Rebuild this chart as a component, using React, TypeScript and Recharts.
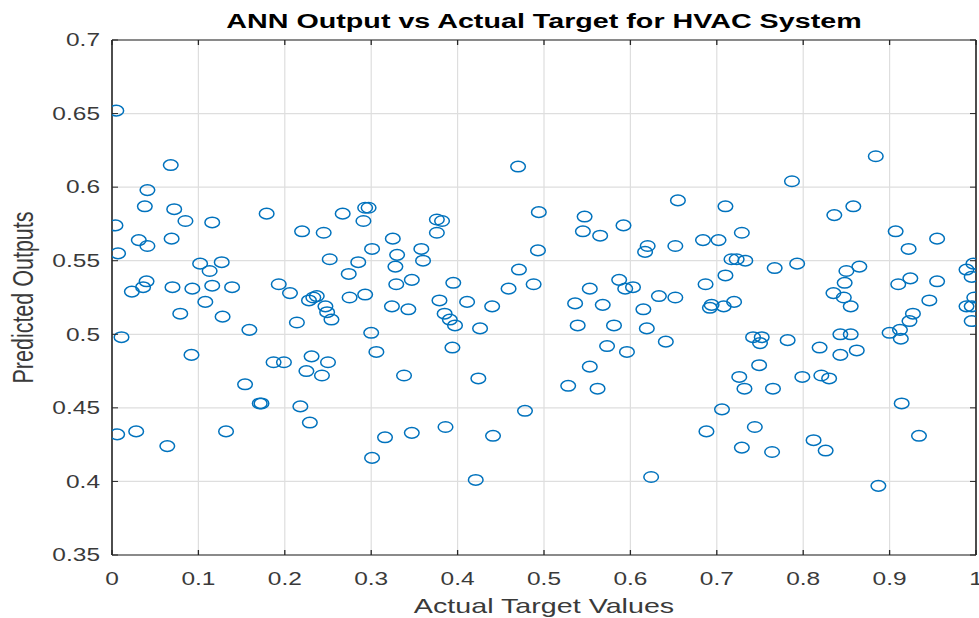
import React from 'react';
import { ScatterChart, Scatter, XAxis, YAxis, CartesianGrid, ReferenceLine } from 'recharts';

const actualTargets = [
  0.005,0.068,0.041,0.038,0.072,0.085,0.116,0.004,0.031,0.041,
  0.069,0.007,0.102,0.127,0.113,0.040,0.036,0.023,0.070,0.093,
  0.116,0.139,0.108,0.079,0.128,0.159,0.011,0.092,0.006,0.028,
  0.064,0.132,0.154,0.171,0.173,
  0.179,0.220,0.245,0.267,0.293,0.297,0.291,0.325,0.301,0.330,
  0.252,0.285,0.274,0.328,0.329,0.193,0.206,0.237,0.233,0.228,
  0.247,0.249,0.254,0.275,0.293,0.324,0.214,0.300,0.306,0.231,
  0.187,0.199,0.250,0.225,0.243,0.218,0.229,0.301,0.316,
  0.470,0.494,0.376,0.382,0.376,0.358,0.493,0.360,0.471,0.347,
  0.395,0.488,0.459,0.379,0.411,0.440,0.343,0.385,0.391,0.397,
  0.426,0.394,0.338,0.424,0.347,0.386,0.441,0.478,0.421,
  0.655,0.547,0.545,0.565,0.592,0.620,0.617,0.652,0.587,0.594,
  0.603,0.553,0.633,0.652,0.536,0.568,0.615,0.539,0.581,0.619,
  0.641,0.573,0.596,0.553,0.528,0.562,0.624,
  0.787,0.710,0.729,0.684,0.702,0.717,0.723,0.733,0.767,0.793,
  0.710,0.687,0.720,0.694,0.692,0.708,0.742,0.752,0.750,0.782,
  0.819,0.749,0.726,0.732,0.765,0.799,0.821,0.830,0.706,0.688,
  0.744,0.729,0.764,0.812,0.826,
  0.884,0.858,0.836,0.907,0.955,0.922,0.865,0.850,0.848,0.835,
  0.847,0.855,0.910,0.924,0.955,0.946,0.927,0.923,0.912,0.900,
  0.913,0.843,0.855,0.862,0.843,0.989,0.997,0.995,0.989,0.998,
  0.995,0.995,0.914,0.934,0.887,
];

const predictedOutputs = [
  0.652,0.615,0.598,0.587,0.585,0.577,0.576,0.574,0.564,0.560,
  0.565,0.555,0.548,0.549,0.543,0.536,0.532,0.529,0.532,0.531,
  0.533,0.532,0.522,0.514,0.512,0.503,0.498,0.486,0.432,0.434,
  0.424,0.434,0.466,0.453,0.453,
  0.582,0.570,0.569,0.582,0.586,0.586,0.577,0.565,0.558,0.554,
  0.551,0.549,0.541,0.546,0.534,0.534,0.528,0.526,0.525,0.523,
  0.519,0.515,0.510,0.525,0.527,0.519,0.508,0.501,0.488,0.485,
  0.481,0.481,0.481,0.475,0.472,0.451,0.440,0.416,0.430,
  0.614,0.583,0.578,0.577,0.569,0.558,0.557,0.550,0.544,0.537,
  0.535,0.534,0.531,0.523,0.522,0.519,0.517,0.514,0.510,0.506,
  0.504,0.491,0.472,0.470,0.433,0.437,0.431,0.448,0.401,
  0.591,0.580,0.570,0.567,0.574,0.560,0.556,0.560,0.537,0.531,
  0.532,0.531,0.526,0.525,0.521,0.520,0.517,0.506,0.506,0.504,
  0.495,0.492,0.488,0.478,0.465,0.463,0.403,
  0.604,0.587,0.569,0.564,0.564,0.551,0.551,0.550,0.545,0.548,
  0.540,0.534,0.522,0.520,0.518,0.519,0.498,0.498,0.494,0.496,
  0.491,0.479,0.471,0.463,0.463,0.471,0.472,0.470,0.449,0.434,
  0.437,0.423,0.420,0.428,0.421,
  0.621,0.587,0.581,0.570,0.565,0.558,0.546,0.543,0.535,0.528,
  0.525,0.519,0.534,0.538,0.536,0.523,0.514,0.509,0.503,0.501,
  0.497,0.500,0.500,0.489,0.486,0.544,0.548,0.539,0.519,0.525,
  0.519,0.509,0.453,0.431,0.397,
];

const xTicks = [0, 0.1, 0.2, 0.3, 0.4, 0.5, 0.6, 0.7, 0.8, 0.9, 1];
const xTickLabels = ['0', '0.1', '0.2', '0.3', '0.4', '0.5', '0.6', '0.7', '0.8', '0.9', '1'];
const yTicks = [0.35, 0.4, 0.45, 0.5, 0.55, 0.6, 0.65, 0.7];
const yTickLabels = ['0.35', '0.4', '0.45', '0.5', '0.55', '0.6', '0.65', '0.7'];

const titleText = 'ANN Output vs Actual Target for HVAC System';
const xLabelText = 'Actual Target Values';
const yLabelText = 'Predicted Outputs';

const points = actualTargets.map((x, i) => ({ x, y: predictedOutputs[i] }));

const W = 979;
const H = 618;
const PLOT_W = 864;
const PLOT_H = 515;
const SX = 1.4;
const AXIS = '#262626';
const TEXT = '#3a3a3a';
const FONT = "'Liberation Sans', Arial, Helvetica, sans-serif";
const BLUE = '#0072BD';

function labelFor(value: number, ticks: number[], labels: string[]) {
  let best = 0;
  for (let i = 1; i < ticks.length; i++) {
    if (Math.abs(ticks[i] - value) < Math.abs(ticks[best] - value)) best = i;
  }
  return labels[best];
}

function XTick(props: any) {
  const { x, y, payload } = props;
  const label = labelFor(payload.value, xTicks, xTickLabels);
  return (
    <g>
      <line x1={x} y1={y} x2={x} y2={y - 5} stroke={AXIS} strokeWidth={1.3} />
      <line x1={x} y1={y - PLOT_H} x2={x} y2={y - PLOT_H + 5} stroke={AXIS} strokeWidth={1.3} />
      <text
        transform={`translate(${x},${y + 30}) scale(${SX},1)`}
        textAnchor="middle"
        fontSize={17.5}
        fontFamily={FONT}
        fill={TEXT}
      >
        {label}
      </text>
    </g>
  );
}

function YTick(props: any) {
  const { x, y, payload } = props;
  const label = labelFor(payload.value, yTicks, yTickLabels);
  return (
    <g>
      <line x1={x} y1={y} x2={x + 6} y2={y} stroke={AXIS} strokeWidth={1} />
      <line x1={x + PLOT_W} y1={y} x2={x + PLOT_W - 6} y2={y} stroke={AXIS} strokeWidth={1} />
      <text
        transform={`translate(${x - 12},${y}) scale(${SX},1)`}
        textAnchor="end"
        dy="0.36em"
        fontSize={17.5}
        fontFamily={FONT}
        fill={TEXT}
      >
        {label}
      </text>
    </g>
  );
}

function Ring(props: any) {
  const { cx, cy } = props;
  if (cx == null || cy == null) return null;
  return <ellipse cx={cx} cy={cy} rx={7.3} ry={5.3} fill="none" stroke={BLUE} strokeWidth={1.5} />;
}

export default function App() {
  return (
    <div style={{ position: 'absolute', left: 0, top: 0, width: W, height: H, background: '#fff' }}>
      <ScatterChart width={W} height={H} margin={{ top: 40, right: 3, bottom: 0, left: 0 }}>
        <CartesianGrid stroke="#dedede" strokeWidth={1.2} />
        <XAxis
          type="number"
          dataKey="x"
          domain={[0, 1]}
          ticks={xTicks}
          allowDataOverflow
          height={63}
          tickSize={0}
          tickMargin={0}
          tickLine={false}
          axisLine={{ stroke: AXIS, strokeWidth: 1.2 }}
          tick={<XTick />}
          interval={0}
        />
        <YAxis
          type="number"
          dataKey="y"
          domain={[0.35, 0.7]}
          ticks={yTicks}
          allowDataOverflow
          width={112}
          tickSize={0}
          tickMargin={0}
          tickLine={false}
          axisLine={{ stroke: AXIS, strokeWidth: 1.6 }}
          tick={<YTick />}
          interval={0}
        />
        <ReferenceLine y={0.7} stroke={AXIS} strokeWidth={1.2} ifOverflow="visible" />
        <ReferenceLine x={1} stroke={AXIS} strokeWidth={1.6} ifOverflow="visible" />
        <Scatter data={points} shape={<Ring />} isAnimationActive={false} />
      </ScatterChart>
      <svg
        width={W}
        height={H}
        style={{ position: 'absolute', left: 0, top: 0, pointerEvents: 'none' }}
      >
        <text
          transform={`translate(544,28) scale(${SX},1)`}
          textAnchor="middle"
          fontSize={20.5}
          fontWeight="bold"
          fontFamily={FONT}
          fill="#000"
        >
          {titleText}
        </text>
        <text
          transform={`translate(544,613) scale(${SX},1)`}
          textAnchor="middle"
          fontSize={20.5}
          fontFamily={FONT}
          fill={TEXT}
        >
          {xLabelText}
        </text>
        <text
          transform={`translate(33,297.5) scale(${SX},1) rotate(-90)`}
          textAnchor="middle"
          fontSize={21.5}
          fontFamily={FONT}
          fill={TEXT}
        >
          {yLabelText}
        </text>
      </svg>
    </div>
  );
}
